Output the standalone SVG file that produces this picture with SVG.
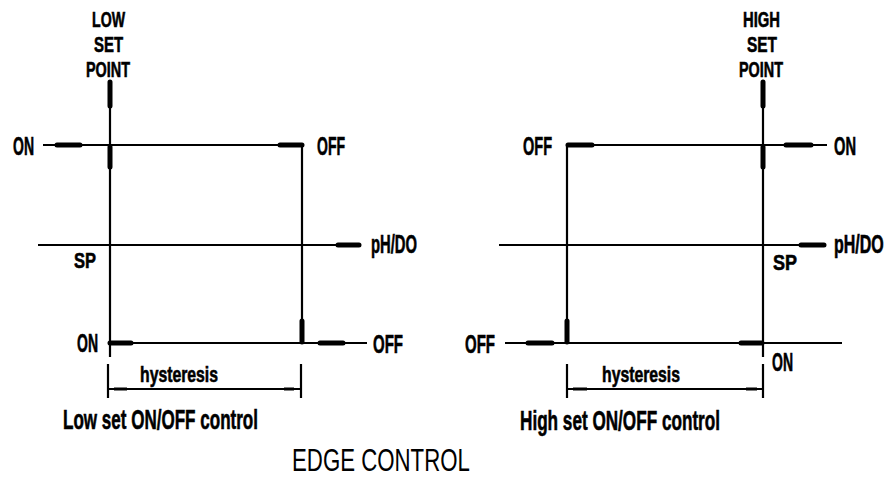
<svg xmlns="http://www.w3.org/2000/svg" width="891" height="478" viewBox="0 0 891 478">
<style>
.bg{fill:#fff}
.thin{stroke:#000;stroke-width:2.2;fill:none}
.thick{stroke:#000;stroke-width:5;fill:none;stroke-linecap:round}
.stub{stroke:#000;stroke-width:3;fill:none}
.lbl{font-family:"Liberation Sans",Arial,sans-serif;font-weight:bold;fill:#000;stroke:#000;stroke-width:0.6;font-size:25px}
.stk{font-size:22px}
.sm{font-size:22px}
.cap{font-size:28px}
.hy{font-size:22px}
.title{font-family:"Liberation Sans",Arial,sans-serif;font-weight:normal;font-size:32px;fill:#000}
</style>
<rect class="bg" x="0" y="0" width="891" height="478"/>
<g id="connectors">
  <!-- left diagram -->
  <path class="thin" d="M110,80V357 M43,145H303 M302,145V343 M38,245H360 M108,343H367"/>
  <path class="thick" d="M110,82V106 M110,147V167 M57,145H80 M280,145H302 M302,321V342 M338,245H359 M110,343H131 M320,343H343"/>
  <path class="thin" d="M108,364V398 M301,364V398 M108,389H301"/>
  <path class="stub" d="M114,389H127 M284,389H294"/>
  <!-- right diagram -->
  <path class="thin" d="M763,80V357 M567,145H827 M567,145V343 M499,245H825 M505,343H842"/>
  <path class="thick" d="M763,82V106 M763,147V167 M568,145H592 M786,145H811 M567,321V342 M801,245H824 M528,343H552 M741,343H762"/>
  <path class="thin" d="M567,364V398 M763,364V398 M567,389H763"/>
  <path class="stub" d="M573,389H587 M746,389H757"/>
</g>
<g id="low-set-point">
  <text class="lbl stk" x="92" y="27" textLength="33" lengthAdjust="spacingAndGlyphs">LOW</text>
  <text class="lbl stk" x="94" y="52" textLength="29" lengthAdjust="spacingAndGlyphs">SET</text>
  <text class="lbl stk" x="86" y="77" textLength="44" lengthAdjust="spacingAndGlyphs">POINT</text>
</g>
<g id="left-labels">
  <text class="lbl" x="13" y="155" textLength="21" lengthAdjust="spacingAndGlyphs">ON</text>
  <text class="lbl" x="317" y="155" textLength="28" lengthAdjust="spacingAndGlyphs">OFF</text>
  <text class="lbl" x="371" y="253" textLength="46" lengthAdjust="spacingAndGlyphs">pH/DO</text>
  <text class="lbl sm" x="74" y="268" textLength="22" lengthAdjust="spacingAndGlyphs">SP</text>
  <text class="lbl" x="77" y="352" textLength="21" lengthAdjust="spacingAndGlyphs">ON</text>
  <text class="lbl" x="373" y="353" textLength="30" lengthAdjust="spacingAndGlyphs">OFF</text>
  <text class="lbl hy" x="140" y="382" textLength="78" lengthAdjust="spacingAndGlyphs">hysteresis</text>
  <text class="lbl cap" x="63" y="429" textLength="195" lengthAdjust="spacingAndGlyphs">Low set ON/OFF control</text>
</g>
<g id="high-set-point">
  <text class="lbl stk" x="743" y="27" textLength="37" lengthAdjust="spacingAndGlyphs">HIGH</text>
  <text class="lbl stk" x="747" y="52" textLength="30" lengthAdjust="spacingAndGlyphs">SET</text>
  <text class="lbl stk" x="739" y="77" textLength="44" lengthAdjust="spacingAndGlyphs">POINT</text>
</g>
<g id="right-labels">
  <text class="lbl" x="523" y="155" textLength="29" lengthAdjust="spacingAndGlyphs">OFF</text>
  <text class="lbl" x="834" y="155" textLength="22" lengthAdjust="spacingAndGlyphs">ON</text>
  <text class="lbl" transform="translate(834,253) scale(0.64,1)" x="0" y="0" font-size="25">pH/DO</text>
  <text class="lbl sm" x="773" y="270" textLength="24" lengthAdjust="spacingAndGlyphs">SP</text>
  <text class="lbl" x="465" y="353" textLength="30" lengthAdjust="spacingAndGlyphs">OFF</text>
  <text class="lbl" x="772" y="371" textLength="21" lengthAdjust="spacingAndGlyphs">ON</text>
  <text class="lbl hy" x="602" y="382" textLength="78" lengthAdjust="spacingAndGlyphs">hysteresis</text>
  <text class="lbl cap" x="520" y="430" textLength="200" lengthAdjust="spacingAndGlyphs">High set ON/OFF control</text>
</g>
<g id="title">
  <text class="title" transform="translate(292,471) scale(0.695,1)" x="0" y="0">EDGE CONTROL</text>
</g>
</svg>
